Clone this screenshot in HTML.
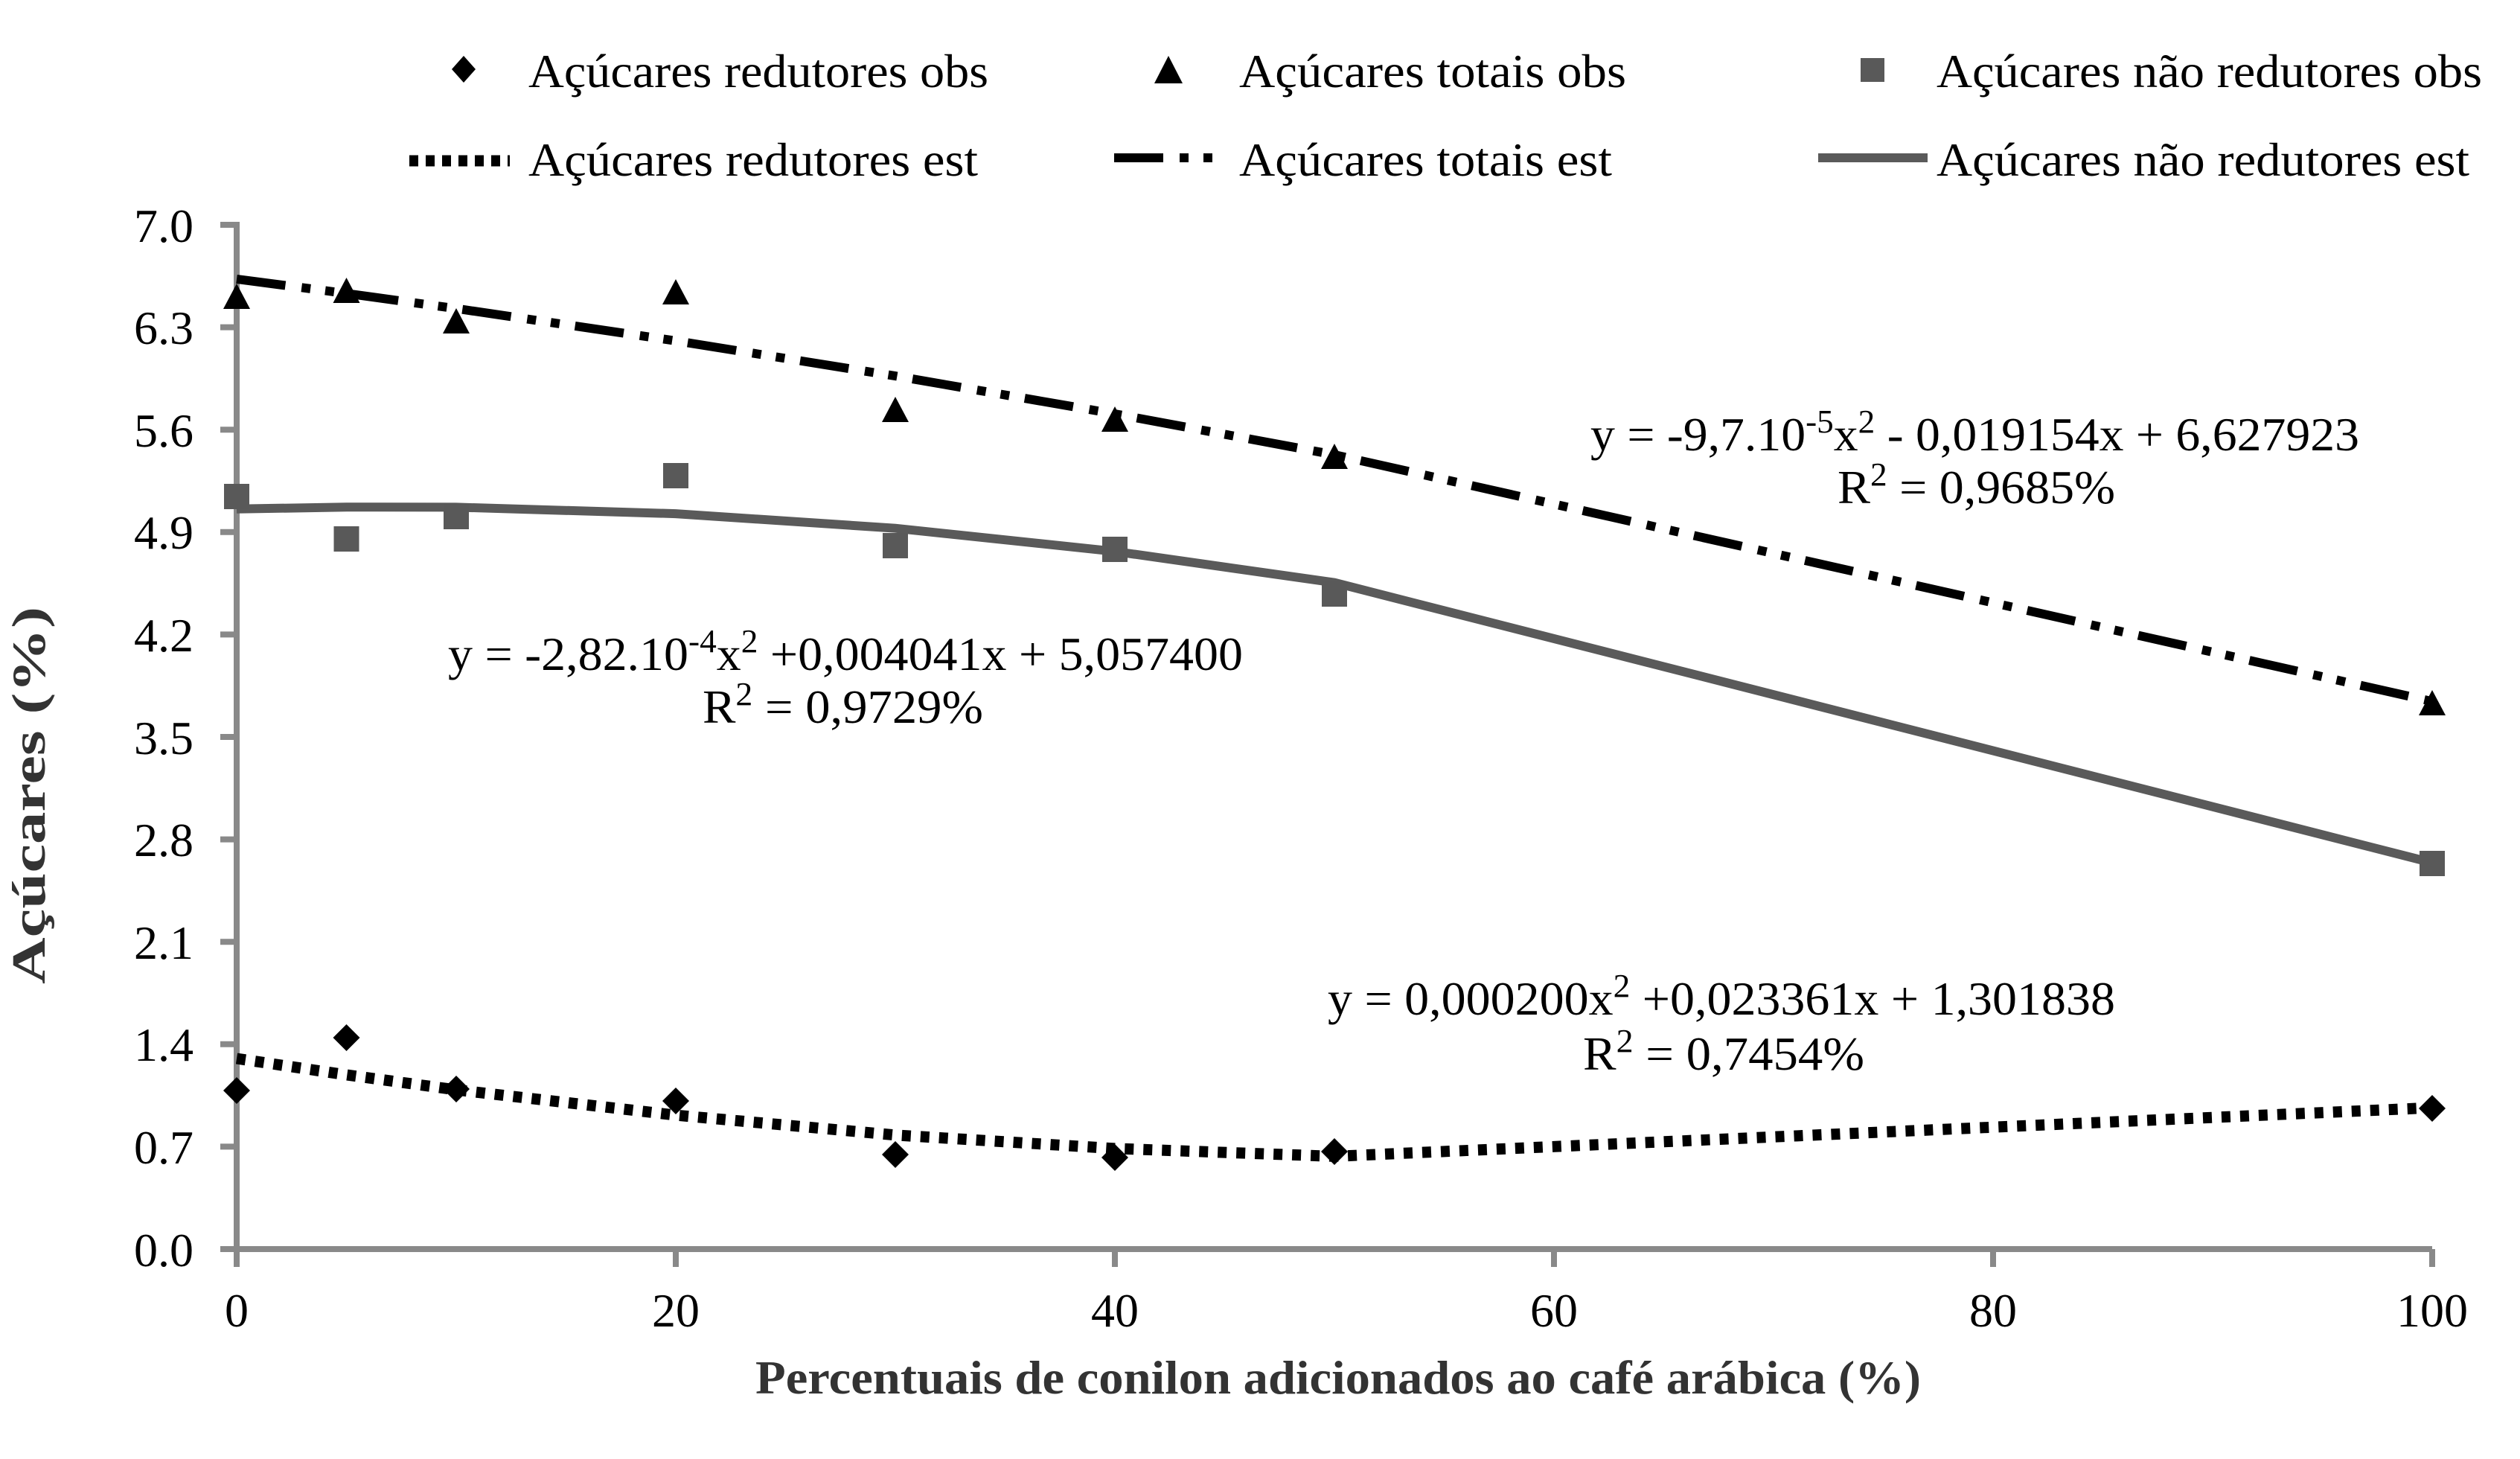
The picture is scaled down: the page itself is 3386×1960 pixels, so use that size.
<!DOCTYPE html>
<html><head><meta charset="utf-8"><style>html,body{margin:0;padding:0;background:#fff}svg{display:block}</style></head>
<body>
<svg xmlns="http://www.w3.org/2000/svg" width="3386" height="1960" viewBox="0 0 3386 1960" font-family="Liberation Serif, serif">
<rect width="3386" height="1960" fill="#fff"/>
<g stroke="#898989" stroke-width="8" fill="none">
<line x1="318" y1="298" x2="318" y2="1682"/>
<line x1="314" y1="1678" x2="3268" y2="1678"/>
<line x1="296" y1="302" x2="318" y2="302"/>
<line x1="296" y1="439.6" x2="318" y2="439.6"/>
<line x1="296" y1="577.2" x2="318" y2="577.2"/>
<line x1="296" y1="714.8" x2="318" y2="714.8"/>
<line x1="296" y1="852.4" x2="318" y2="852.4"/>
<line x1="296" y1="990" x2="318" y2="990"/>
<line x1="296" y1="1127.6" x2="318" y2="1127.6"/>
<line x1="296" y1="1265.2" x2="318" y2="1265.2"/>
<line x1="296" y1="1402.8" x2="318" y2="1402.8"/>
<line x1="296" y1="1540.4" x2="318" y2="1540.4"/>
<line x1="296" y1="1678" x2="318" y2="1678"/>
<line x1="318" y1="1678" x2="318" y2="1702"/>
<line x1="908" y1="1678" x2="908" y2="1702"/>
<line x1="1498" y1="1678" x2="1498" y2="1702"/>
<line x1="2088" y1="1678" x2="2088" y2="1702"/>
<line x1="2678" y1="1678" x2="2678" y2="1702"/>
<line x1="3268" y1="1678" x2="3268" y2="1702"/>
</g>
<g font-size="64" text-anchor="end" fill="#000">
<text x="260" y="325">7.0</text>
<text x="260" y="462">6.3</text>
<text x="260" y="600">5.6</text>
<text x="260" y="737">4.9</text>
<text x="260" y="875">4.2</text>
<text x="260" y="1013">3.5</text>
<text x="260" y="1150">2.8</text>
<text x="260" y="1288">2.1</text>
<text x="260" y="1425">1.4</text>
<text x="260" y="1563">0.7</text>
<text x="260" y="1701">0.0</text>
</g>
<g font-size="64" text-anchor="middle" fill="#000">
<text x="318" y="1782">0</text>
<text x="908" y="1782">20</text>
<text x="1498" y="1782">40</text>
<text x="2088" y="1782">60</text>
<text x="2678" y="1782">80</text>
<text x="3268" y="1782">100</text>
</g>
<text x="1015" y="1872" font-size="64" font-weight="bold" fill="#333" textLength="1566" lengthAdjust="spacingAndGlyphs">Percentuais de conilon adicionados ao café arábica (%)</text>
<text transform="translate(60,1322) rotate(-90)" font-size="64" font-weight="bold" fill="#333" textLength="507" lengthAdjust="spacingAndGlyphs">Açúcares (%)</text>

<polyline fill="none" stroke="#000" stroke-width="12" stroke-dasharray="66 22 12 20 12 21" points="318,374.9 465.5,394.2 613,414.5 908,457.9 1203,505.1 1498,556 1793,610.9 3268,942.3"/>
<polyline fill="none" stroke="#5a5a5a" stroke-width="12" points="318,683.8 465.5,681.2 613,681.4 908,690.1 1203,709.7 1498,740.8 1793,782.7 3268,1159"/>
<polyline fill="none" stroke="#000" stroke-width="15" stroke-dasharray="12 13" points="318,1422 465.5,1444 613,1464.1 908,1498.1 1203,1524.8 1498,1542.9 1793,1553.4 3268,1488.1"/>

<g fill="#000">
<polygon points="318,381 300,415 336,415"/>
<polygon points="465.5,373 447.5,407 483.5,407"/>
<polygon points="613,414 595,448 631,448"/>
<polygon points="908,375 890,409 926,409"/>
<polygon points="1203,533 1185,567 1221,567"/>
<polygon points="1498,546 1480,580 1516,580"/>
<polygon points="1793,596 1775,630 1811,630"/>
<polygon points="3268,927 3250,961 3286,961"/>
</g>
<g fill="#595959">
<rect x="301" y="650" width="34" height="34"/>
<rect x="448.5" y="707" width="34" height="34"/>
<rect x="596" y="677" width="34" height="34"/>
<rect x="891" y="622" width="34" height="34"/>
<rect x="1186" y="716" width="34" height="34"/>
<rect x="1481" y="721" width="34" height="34"/>
<rect x="1776" y="781" width="34" height="34"/>
<rect x="3251" y="1143" width="34" height="34"/>
</g>
<g fill="#000">
<polygon points="318,1447 336,1465 318,1483 300,1465"/>
<polygon points="465.5,1376 483.5,1394 465.5,1412 447.5,1394"/>
<polygon points="613,1445 631,1463 613,1481 595,1463"/>
<polygon points="908,1461 926,1479 908,1497 890,1479"/>
<polygon points="1203,1533 1221,1551 1203,1569 1185,1551"/>
<polygon points="1498,1537 1516,1555 1498,1573 1480,1555"/>
<polygon points="1793,1529 1811,1547 1793,1565 1775,1547"/>
<polygon points="3268,1471 3286,1489 3268,1507 3250,1489"/>
</g>

<polygon points="623,75 639,93 623,111 607,93" fill="#000"/>
<text x="710" y="117" font-size="64" textLength="618" lengthAdjust="spacingAndGlyphs">Açúcares redutores obs</text>
<polygon points="1570,75 1589,112 1551,112" fill="#000"/>
<text x="1665" y="117" font-size="64" textLength="520" lengthAdjust="spacingAndGlyphs">Açúcares totais obs</text>
<rect x="2500" y="78" width="32" height="32" fill="#595959"/>
<text x="2602" y="117" font-size="64" textLength="733" lengthAdjust="spacingAndGlyphs">Açúcares não redutores obs</text>

<line x1="550" y1="216" x2="685" y2="216" stroke="#000" stroke-width="15" stroke-dasharray="12 10"/>
<text x="710" y="236" font-size="64" textLength="604" lengthAdjust="spacingAndGlyphs">Açúcares redutores est</text>
<line x1="1497" y1="212" x2="1640" y2="212" stroke="#000" stroke-width="12" stroke-dasharray="66 22 12 20 12 21"/>
<text x="1665" y="236" font-size="64" textLength="501" lengthAdjust="spacingAndGlyphs">Açúcares totais est</text>
<line x1="2443" y1="212" x2="2590" y2="212" stroke="#5a5a5a" stroke-width="12"/>
<text x="2602" y="236" font-size="64" textLength="716" lengthAdjust="spacingAndGlyphs">Açúcares não redutores est</text>

<g font-size="64" fill="#000">
<text x="2137" y="605" textLength="1033" lengthAdjust="spacingAndGlyphs">y = -9,7.10<tspan font-size="44" dy="-24">-5</tspan><tspan dy="24">x</tspan><tspan font-size="44" dy="-24">2</tspan><tspan dy="24"> - 0,019154x + 6,627923</tspan></text>
<text x="2469" y="676" textLength="373" lengthAdjust="spacingAndGlyphs">R<tspan font-size="44" dy="-24">2</tspan><tspan dy="24"> = 0,9685%</tspan></text>
<text x="602" y="900" textLength="1068" lengthAdjust="spacingAndGlyphs">y = -2,82.10<tspan font-size="44" dy="-24">-4</tspan><tspan dy="24">x</tspan><tspan font-size="44" dy="-24">2</tspan><tspan dy="24"> +0,004041x + 5,057400</tspan></text>
<text x="944" y="971" textLength="377" lengthAdjust="spacingAndGlyphs">R<tspan font-size="44" dy="-24">2</tspan><tspan dy="24"> = 0,9729%</tspan></text>
<text x="1784" y="1363" textLength="1058" lengthAdjust="spacingAndGlyphs">y = 0,000200x<tspan font-size="44" dy="-24">2</tspan><tspan dy="24"> +0,023361x + 1,301838</tspan></text>
<text x="2127" y="1437" textLength="378" lengthAdjust="spacingAndGlyphs">R<tspan font-size="44" dy="-24">2</tspan><tspan dy="24"> = 0,7454%</tspan></text>
</g>
</svg>
</body></html>
